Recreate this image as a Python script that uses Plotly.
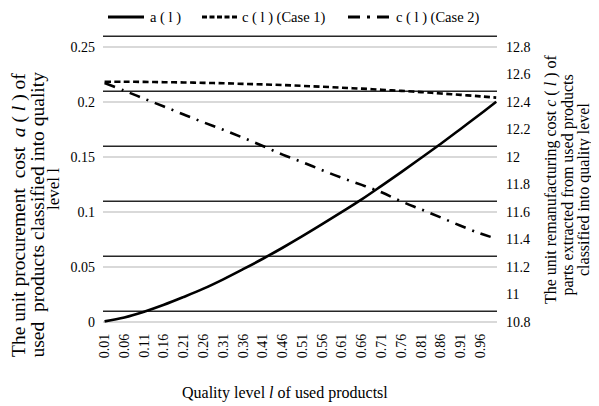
import plotly.graph_objects as go

# ---- data ----
quality = [0.01, 0.06, 0.11, 0.16, 0.21, 0.26, 0.31, 0.36, 0.41, 0.46, 0.51,
           0.56, 0.61, 0.66, 0.71, 0.76, 0.81, 0.86, 0.91, 0.96, 1.00]
a_vals = [0.0003, 0.0039, 0.0091, 0.0154, 0.0225, 0.0300, 0.0385, 0.0477, 0.0572,
          0.0672, 0.0777, 0.0886, 0.0998, 0.1112, 0.1235, 0.1360, 0.1488, 0.1618,
          0.1752, 0.1888, 0.2000]
c_case1 = [12.545, 12.545, 12.544, 12.542, 12.540, 12.537, 12.534, 12.530, 12.526,
           12.521, 12.515, 12.509, 12.502, 12.495, 12.487, 12.479, 12.470, 12.460,
           12.450, 12.439, 12.430]
c_case2 = [12.536, 12.480, 12.422, 12.365, 12.307, 12.250, 12.196, 12.138, 12.078,
           12.015, 11.960, 11.902, 11.846, 11.795, 11.741, 11.675, 11.617, 11.558,
           11.498, 11.441, 11.405]

series_names = ["a ( l )", "c ( l ) (Case 1)", "c ( l ) (Case 2)"]

x_tickvals = [0.01, 0.06, 0.11, 0.16, 0.21, 0.26, 0.31, 0.36, 0.41, 0.46,
              0.51, 0.56, 0.61, 0.66, 0.71, 0.76, 0.81, 0.86, 0.91, 0.96]
x_ticktext = ["0.01", "0.06", "0.11", "0.16", "0.21", "0.26", "0.31", "0.36", "0.41", "0.46",
              "0.51", "0.56", "0.61", "0.66", "0.71", "0.76", "0.81", "0.86", "0.91", "0.96"]
left_tickvals = [0, 0.05, 0.1, 0.15, 0.2, 0.25]
left_ticktext = ["0", "0.05", "0.1", "0.15", "0.2", "0.25"]
right_tickvals = [10.8, 11.0, 11.2, 11.4, 11.6, 11.8, 12.0, 12.2, 12.4, 12.6, 12.8]
right_ticktext = ["10.8", "11", "11.2", "11.4", "11.6", "11.8", "12", "12.2", "12.4", "12.6", "12.8"]

left_title_lines = ["The unit procurement  cost  <i>a</i> ( <i>l</i> ) of",
                    "used  products classified into quality",
                    "level l"]
right_title_lines = ["The unit remanufacturing cost <i>c</i> ( <i>l</i> ) of",
                     "parts extracted from used products",
                     "classified into quality level"]
x_title = "Quality level <i>l</i> of used productsl"

SERIF = "Liberation Serif, Times New Roman, serif"
OFF = 8                      # page body margin in the browser
W, H = 599 - OFF, 406 - OFF  # figure fits the window exactly
ML, MT = 95, 27
PW, PH = 394, 288
MR, MB = W - ML - PW, H - MT - PH


def px(xs):  # screen pixel x -> paper x
    return (xs - OFF - ML) / PW


def py(ys):  # screen pixel y -> paper y
    return (MT + PH - (ys - OFF)) / PH


dashes = ["solid", "6px,3.5px", "11px,7px,2px,7px"]
axes = ["y", "y2", "y2"]
values = [a_vals, c_case1, c_case2]

fig = go.Figure()
for name, vals, d, ax in zip(series_names, values, dashes, axes):
    fig.add_trace(go.Scatter(x=quality, y=vals, name=name, mode="lines", yaxis=ax,
                             showlegend=False,
                             line=dict(color="black", width=2.6, dash=d, shape="spline")))

shapes = []
# dark horizontal rules (slightly above the light grid lines)
for t in left_tickvals:
    shapes.append(dict(type="line", xref="paper", x0=0, x1=1, yref="y",
                       y0=t + 0.0095, y1=t + 0.0095, layer="below",
                       line=dict(color="#262626", width=1.4)))

# custom legend row
leg_y = py(17)
leg_samples = [(108, 144, "solid"), (202, 238, "5px,2.5px"), (348, 390, "12px,7px,3px,7px")]
leg_text_x = [148, 240, 394]
annotations = []
for (x0, x1, d), tx, name in zip(leg_samples, leg_text_x, series_names):
    shapes.append(dict(type="line", xref="paper", yref="paper", x0=px(x0), x1=px(x1),
                       y0=leg_y, y1=leg_y, line=dict(color="black", width=3, dash=d)))
    annotations.append(dict(text=name, xref="paper", yref="paper", x=px(tx), y=leg_y,
                            xanchor="left", yanchor="middle", showarrow=False,
                            font=dict(family=SERIF, size=14.5)))

# axis titles
for line, cx, cy, fs in zip(left_title_lines, [19, 36.5, 53], [215, 215, 189], [19.5, 19.5, 17]):
    annotations.append(dict(text=line, xref="paper", yref="paper", x=px(cx), y=py(cy),
                            xanchor="center", yanchor="middle", textangle=-90,
                            showarrow=False, font=dict(family=SERIF, size=fs)))
for line, cx, cy in zip(right_title_lines, [551, 567.5, 584], [180, 185, 190]):
    annotations.append(dict(text=line, xref="paper", yref="paper", x=px(cx), y=py(cy),
                            xanchor="center", yanchor="middle", textangle=-90,
                            showarrow=False, font=dict(family=SERIF, size=16)))
annotations.append(dict(text=x_title, xref="paper", yref="paper", x=px(285), y=py(393),
                        xanchor="center", yanchor="middle", showarrow=False,
                        font=dict(family=SERIF, size=16)))

tickfont = dict(family=SERIF, size=14, color="black")
fig.update_layout(
    width=W, height=H,
    margin=dict(l=ML, r=MR, t=MT, b=MB, autoexpand=False),
    paper_bgcolor="white", plot_bgcolor="white",
    font=dict(family=SERIF, color="black", size=14),
    showlegend=False,
    xaxis=dict(range=[0.006, 1.002], tickvals=x_tickvals, ticktext=x_ticktext,
               tickangle=-90, tickfont=tickfont, showgrid=False, zeroline=False,
               showline=False, ticks="", automargin=False, ticklabelstandoff=7),
    yaxis=dict(range=[-0.0012, 0.2606], tickvals=left_tickvals, ticktext=left_ticktext,
               showgrid=True, gridcolor="#d9d9d9", gridwidth=1.5, zeroline=False,
               showline=False, ticks="", tickfont=tickfont, automargin=False,
               ticklabelstandoff=7),
    yaxis2=dict(range=[10.7906, 12.8851], tickvals=right_tickvals, ticktext=right_ticktext,
                overlaying="y", side="right", showgrid=False, zeroline=False,
                showline=False, ticks="", tickfont=tickfont, automargin=False,
                ticklabelstandoff=8),
    shapes=shapes,
    annotations=annotations,
)

fig.write_html("out.html")
